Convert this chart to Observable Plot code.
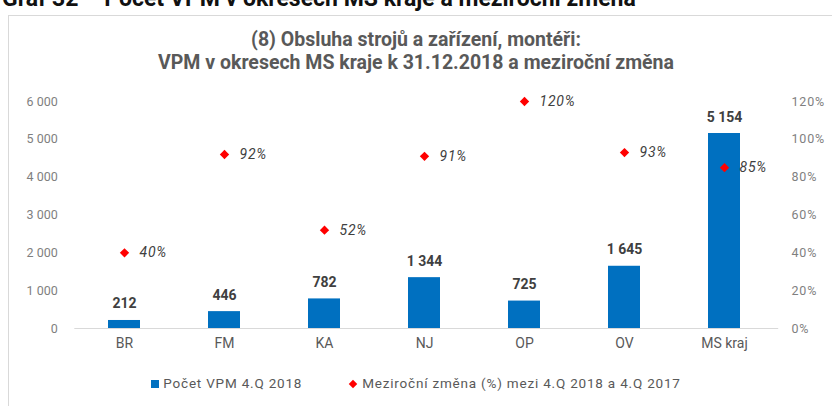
<!DOCTYPE html>
<html>
<head>
<meta charset="utf-8">
<script src="https://cdn.jsdelivr.net/npm/d3@7"></script>
<script src="https://cdn.jsdelivr.net/npm/@observablehq/plot@0.6"></script>
<style>
  html, body { margin: 0; padding: 0; background: #fff; }
  body { width: 832px; height: 406px; overflow: hidden; position: relative;
         font-family: Roboto, sans-serif; }
  #caption { position: absolute; left: 2px; top: -15px; font-size: 23px; font-weight: bold; color: #111; white-space: nowrap; }
  #frame { position: absolute; left: 8px; top: 15px; width: 830px; height: 400px; border: 1px solid #d9d9d9; box-sizing: border-box; }
  #title { position: absolute; left: 0; width: 832px; top: 28px; text-align: center; font-size: 19.5px; font-weight: bold; color: #595959; line-height: 23px; }
  .layer { position: absolute; left: 0; top: 80px; }
  #legend { position: absolute; top: 375px; left: 0; width: 832px; text-align: center; font-size: 13.5px; letter-spacing: 0.8px; color: #595959; }
  #legend span.item { margin: 0 24px; white-space: nowrap; }
  .sq { display: inline-block; width: 8px; height: 8px; background: #0070c0; margin-right: 4px; vertical-align: 0px; }
  .dm { display: inline-block; width: 6px; height: 6px; background: #ff0000; transform: rotate(45deg); margin-right: 6px; vertical-align: 1px; }
  .spaced text { letter-spacing: 0.8px; }
</style>
</head>
<body>
<div id="caption">Graf 32 – Počet VPM v okresech MS kraje a meziroční změna</div>
<div id="frame"></div>
<div id="title">(8) Obsluha strojů a zařízení, montéři:<br>VPM v okresech MS kraje k 31.12.2018 a meziroční změna</div>
<div id="chart"></div>
<div id="legend"><span class="item"><span class="sq"></span>Počet VPM 4.Q 2018</span><span class="item"><span class="dm"></span>Meziroční změna (%) mezi 4.Q 2018 a 4.Q 2017</span></div>
<script>
const categories = ["BR", "FM", "KA", "NJ", "OP", "OV", "MS kraj"];
const counts = [212, 446, 782, 1344, 725, 1645, 5154];
const changes = [0.40, 0.92, 0.52, 0.91, 1.20, 0.93, 0.85];
const countTicks = [0, 1000, 2000, 3000, 4000, 5000, 6000];
const pctTicks = [0, 0.2, 0.4, 0.6, 0.8, 1.0, 1.2];

const loc = d3.formatLocale({decimal: ",", thousands: "\u00a0", grouping: [3], currency: ["", ""]});
const fmtNum = loc.format(",d");
const fmtPct = d => Math.round(d * 100) + "%";

const data = categories.map((c, i) => ({cat: c, count: counts[i], change: changes[i]}));

const common = {
  width: 832, height: 278,
  marginTop: 21, marginBottom: 30, marginLeft: 72.3, marginRight: 56.8,
  style: {background: "transparent", fontFamily: "Roboto, sans-serif"}
};

const bars = Plot.plot({
  ...common,
  x: {domain: categories, paddingInner: 0.68, paddingOuter: 0.34, label: null},
  y: {domain: [0, 6000], label: null},
  marks: [
    Plot.axisX({tickSize: 0, tickPadding: 10, fontSize: 14, color: "#595959"}),
    Plot.axisY({ticks: countTicks, tickFormat: fmtNum, tickSize: 0, tickPadding: 15, fontSize: 12.5, color: "#7f7f7f", label: null}),
    Plot.ruleY([0], {stroke: "#d9d9d9", strokeWidth: 1.2, insetLeft: 2, insetRight: -3}),
    Plot.barY(data, {x: "cat", y: "count", fill: "#0070c0"}),
    Plot.text(data, {x: "cat", y: "count", text: d => fmtNum(d.count), dy: -12, lineAnchor: "bottom",
      fontSize: 14, fontWeight: "bold", fill: "#404040"})
  ]
});
bars.classList.add("layer");

const pts = Plot.plot({
  ...common,
  className: "spaced",
  x: {domain: categories, paddingInner: 0.68, paddingOuter: 0.34, label: null, axis: null},
  y: {domain: [0, 1.2], label: null},
  marks: [
    Plot.axisY({anchor: "right", ticks: pctTicks, tickFormat: fmtPct, tickSize: 0, tickPadding: 15.8, fontSize: 12.5, color: "#7f7f7f", label: null}),
    Plot.dot(data, {x: "cat", y: "change", symbol: "diamond2", r: 4.2, fill: "#ff0000", stroke: "none"}),
    Plot.text(data, {x: "cat", y: "change", text: d => fmtPct(d.change), dx: 15, textAnchor: "start",
      fontSize: 14, fontStyle: "italic", fill: "#404040"})
  ]
});
pts.classList.add("layer");

const chart = document.getElementById("chart");
chart.appendChild(bars);
chart.appendChild(pts);
</script>
</body>
</html>
